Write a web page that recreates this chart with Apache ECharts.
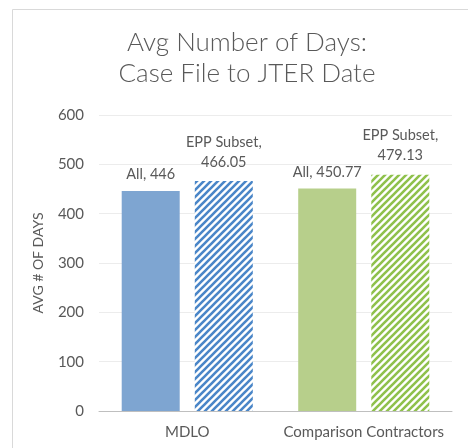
<!DOCTYPE html>
<html><head><meta charset="utf-8">
<script src="https://cdn.jsdelivr.net/npm/echarts@6/dist/echarts.min.js"></script>
<style>html,body{margin:0;padding:0;background:#fff}#c{width:468px;height:448px}</style>
</head><body><div id="c"></div>
<script>
const categories = ['MDLO', 'Comparison Contractors'];
const allValues = [446, 450.77];
const eppValues = [466.05, 479.13];
const seriesNames = ['All', 'EPP Subset'];
const yTicks = [0, 100, 200, 300, 400, 500, 600];

function hatch(color) {
  const s = 7;
  const c = document.createElement('canvas');
  c.width = s; c.height = s;
  const g = c.getContext('2d');
  g.fillStyle = '#fff'; g.fillRect(0, 0, s, s);
  g.strokeStyle = color; g.lineWidth = 2.6;
  g.beginPath();
  g.moveTo(-1, s + 1); g.lineTo(s + 1, -1);
  g.moveTo(-1, 1); g.lineTo(1, -1);
  g.moveTo(s - 1, s + 1); g.lineTo(s + 1, s - 1);
  g.stroke();
  return { image: c, repeat: 'repeat' };
}
const solidColors = ['#7ea5d1', '#b7cf8b'];
const hatchColors = ['#4a86c8', '#8fc14c'];
const font = 'Lato, "Open Sans", sans-serif';

const chart = echarts.init(document.getElementById('c'), null, { renderer: 'canvas' });
chart.setOption({
  animation: false,
  backgroundColor: '#fff',
  textStyle: { fontFamily: font },
  title: {
    text: 'Avg Number of Days:\nCase File to JTER Date',
    left: 242, top: 22, textAlign: 'center',
    textStyle: { fontFamily: font, fontWeight: 300, fontSize: 26, color: '#595959', lineHeight: 31 }
  },
  graphic: [{ type: 'rect', shape: { x: 12.5, y: 9.5, width: 600, height: 600 }, style: { fill: 'none', stroke: '#d9d9d9', lineWidth: 1 }, z: -1 }],
  grid: { left: 99, right: 16, top: 115, bottom: 37 },
  xAxis: {
    type: 'category', data: categories,
    axisTick: { show: false },
    axisLine: { lineStyle: { color: '#bfbfbf', width: 1 } },
    axisLabel: { color: '#595959', fontSize: 15, margin: 14, fontFamily: font, interval: 0 }
  },
  yAxis: {
    type: 'value', min: yTicks[0], max: yTicks[yTicks.length - 1], interval: 100,
    name: 'AVG # OF DAYS', nameLocation: 'middle', nameGap: 54,
    nameTextStyle: { color: '#595959', fontSize: 14, fontFamily: font },
    axisLine: { show: false }, axisTick: { show: false },
    axisLabel: { color: '#595959', fontSize: 15, margin: 15, fontFamily: font },
    splitLine: { lineStyle: { color: '#ececec', width: 1 } }
  },
  series: [
    {
      name: seriesNames[0], type: 'bar', barWidth: 58, barGap: '26%',
      data: allValues.map((v, i) => ({ value: v, itemStyle: { color: solidColors[i] } })),
      label: { show: true, position: 'top', distance: 9, color: '#595959', fontSize: 14.5, fontFamily: font,
        formatter: p => seriesNames[0] + ', ' + p.value }
    },
    {
      name: seriesNames[1], type: 'bar', barWidth: 58,
      data: eppValues.map((v, i) => ({ value: v, itemStyle: { color: hatch(hatchColors[i]) } })),
      label: { show: true, position: 'top', distance: 9, color: '#595959', fontSize: 14.5, lineHeight: 20, fontFamily: font,
        formatter: p => seriesNames[1] + ',\n' + p.value.toFixed(2) }
    }
  ]
});
</script></body></html>
